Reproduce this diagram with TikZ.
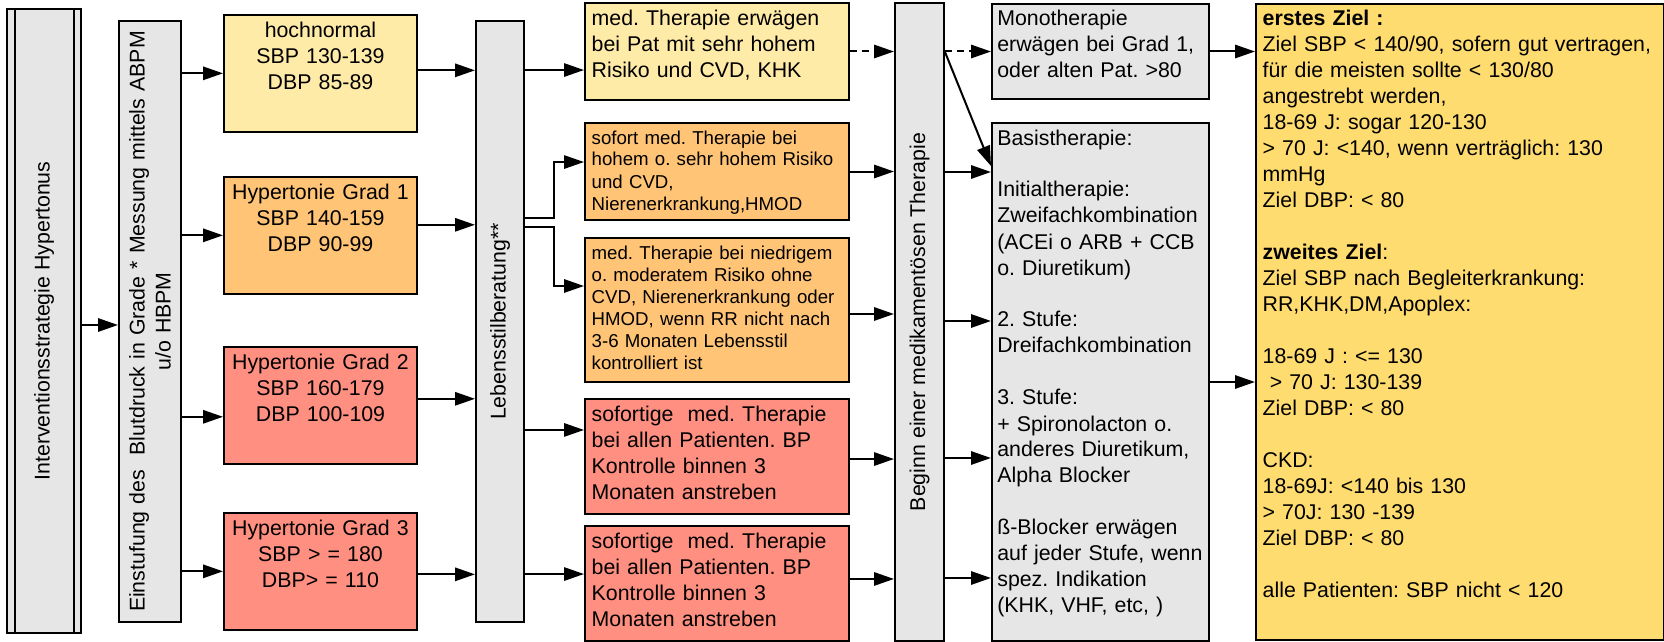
\documentclass[tikz,border=0pt]{standalone}
\usepackage{fontspec}
\setmainfont{Liberation Sans}
\frenchspacing
\usepackage{xcolor}
\definecolor{gray01}{HTML}{E6E6E6}
\definecolor{yellow01}{HTML}{FFEBA8}
\definecolor{orange01}{HTML}{FFC475}
\definecolor{red01}{HTML}{FF8F80}
\definecolor{gold01}{HTML}{FFDC70}
\usepackage{tikz}
\usetikzlibrary{arrows.meta}
\tikzset{
    box/.style={
        rectangle, draw, line width=1.5pt,
        inner xsep=5pt, inner ysep=4pt,
        anchor=north west,
        font=\fontsize{16}{19.5}\selectfont,
        text height=13pt
    },
    stage/.style={
        rectangle, draw, line width=1.5pt, fill=gray01,
        rotate=90, inner sep=2pt,
        font=\fontsize{16}{19.5}\selectfont
    },
    grade/.style={box, inner xsep=4pt, text width=136.75pt, align=center},
    advice/.style={box, text width=188pt, align=left},
    small/.style={font=\fontsize{14}{16.5}\selectfont, text height=11.75pt},
    therapy/.style={box, fill=gray01, inner xsep=4pt, text width=154.75pt, align=left, text height=12.5pt},
    goal/.style={box, fill=gold01, text width=296pt, align=left, text height=12.5pt},
    conn/.style={
        line width=1.5pt,
        -{Triangle[length=15pt, width=10pt]}
    },
}
\begin{document}
\begin{tikzpicture}[x=0.75pt, y=-0.75pt]
    \useasboundingbox (0,0) rectangle (1664,642);

    % stages
    \node[stage, minimum width=468pt, minimum height=55.5pt] (strat) at (44,321) {Interventionsstrategie Hypertonus};
    \draw[line width=1.5pt] ([xshift=6.75pt]strat.north east) -- ([xshift=6.75pt]strat.north west);
    \draw[line width=1.5pt] ([xshift=-6pt]strat.south east) -- ([xshift=-6pt]strat.south west);
    \node[stage, minimum width=450.75pt, minimum height=46.5pt, text width=440pt, align=center] (einst) at (150,321.5)
        {Einstufung des\ \ Blutdruck in Grade * Messung mittels ABPM\\u/o HBPM};
    \node[stage, minimum width=450.75pt, minimum height=36pt] (lebens) at (500,321.5) {Lebensstilberatung**};
    \node[stage, minimum width=478.5pt, minimum height=36.75pt] (beginn) at (919.5,322) {Beginn einer medikamentösen Therapie};

    % grades
    \node[grade, fill=yellow01, text depth=66.5pt] (hochn) at (223,14) {hochnormal\\SBP 130-139\\DBP 85-89};
    \node[grade, fill=orange01, text depth=66.5pt] (grad1) at (223,176) {Hypertonie Grad 1\\SBP 140-159\\DBP 90-99};
    \node[grade, fill=red01, text depth=66.5pt] (grad2) at (223,346) {Hypertonie Grad 2\\SBP 160-179\\DBP 100-109};
    \node[grade, fill=red01, text depth=66.5pt] (grad3) at (223,512) {Hypertonie Grad 3\\SBP > = 180\\DBP> = 110};

    % advice
    \node[advice, fill=yellow01, text depth=51.75pt] (med) at (584,2)
        {med. Therapie erwägen\\bei Pat mit sehr hohem\\Risiko und CVD, KHK};
    \node[advice, small, fill=orange01, text depth=53pt] (or1) at (584,122)
        {sofort med. Therapie bei\\hohem o. sehr hohem Risiko\\und CVD,\\Nierenerkrankung,HMOD};
    \node[advice, small, fill=orange01, text depth=88.25pt] (or2) at (584,237)
        {med. Therapie bei niedrigem\\o. moderatem Risiko ohne\\CVD, Nierenerkrankung oder\\HMOD, wenn RR nicht nach\\3-6 Monaten Lebensstil\\kontrolliert ist};
    \node[advice, fill=red01, text depth=65.25pt] (red1) at (584,398)
        {sofortige\ \ med. Therapie\\bei allen Patienten. BP\\Kontrolle binnen 3\\Monaten anstreben};
    \node[advice, fill=red01, text depth=65.25pt] (red2) at (584,525)
        {sofortige\ \ med. Therapie\\bei allen Patienten. BP\\Kontrolle binnen 3\\Monaten anstreben};

    % therapy
    \node[therapy, text depth=50.75pt] (mono) at (991,3)
        {Monotherapie\\erwägen bei Grad 1,\\oder alten Pat. >80};
    \node[therapy, text depth=368pt] (basis) at (991,122)
        {Basistherapie:\\\mbox{}\\Initialtherapie:\\Zweifachkombination\\(ACEi o ARB + CCB\\o. Diuretikum)\\\mbox{}\\2. Stufe:\\Dreifachkombination\\\mbox{}\\3. Stufe:\\+ Spironolacton o.\\anderes Diuretikum,\\Alpha Blocker\\\mbox{}\\ß-Blocker erwägen\\auf jeder Stufe, wenn\\spez. Indikation\\(KHK, VHF, etc, )};

    % goals
    \node[goal, text depth=456.5pt] (ziel) at (1255,3)
        {\textbf{erstes Ziel :}\\Ziel SBP < 140/90, sofern gut vertragen,\\für die meisten sollte < 130/80\\angestrebt werden,\\18-69 J: sogar 120-130\\> 70 J: <140, wenn verträglich: 130\\mmHg\\Ziel DBP: < 80\\\mbox{}\\\textbf{zweites Ziel}:\\Ziel SBP nach Begleiterkrankung:\\RR,KHK,DM,Apoplex:\\\mbox{}\\18-69 J : <= 130\\\ > 70 J: 130-139\\Ziel DBP: < 80\\\mbox{}\\CKD:\\18-69J: <140 bis 130\\> 70J: 130 -139\\Ziel DBP: < 80\\\mbox{}\\alle Patienten: SBP nicht < 120};

    % connections
    \draw[conn] ([yshift=-3pt]strat.south) -- ([yshift=-3pt]strat.south -| einst.north);
    \foreach \j/\s in {hochn/0, grad1/0, grad2/-8.6, grad3/0}
        \draw[conn] ([yshift=\s pt]\j.west -| einst.south) -- ([yshift=\s pt]\j.west);
    \foreach \i/\s in {hochn/2.25, grad1/7.9, grad2/4.9, grad3/-2.25}
        \draw[conn] ([yshift=\s pt]\i.east) -- ([yshift=\s pt]\i.east -| lebens.north);
    \foreach \j/\s in {med/-13.9, red1/19.9, red2/7.1}
        \draw[conn] ([yshift=\s pt]\j.west -| lebens.south) -- ([yshift=\s pt]\j.west);
    \draw[conn] ([yshift=77.6pt]lebens.south) -- ++(29,0) |- ([yshift=7.1pt]or1.west);
    \draw[conn] ([yshift=70.9pt]lebens.south) -- ++(29,0) |- ([yshift=18pt]or2.west);

    \draw[conn, dash pattern=on 5pt off 4pt] (med.east) -- (med.east -| beginn.north);
    \foreach \i/\s in {or1/0, or2/-3, red1/-1.9, red2/3.4}
        \draw[conn] ([yshift=\s pt]\i.east) -- ([yshift=\s pt]\i.east -| beginn.north);

    \draw[conn, dash pattern=on 5pt off 4pt] (mono.west -| beginn.south) -- (mono.west);
    \draw[conn] ([yshift=-37.5pt]beginn.south east) -- ([yshift=-33pt]basis.north west);
    \foreach \s in {37.5, 149.25, 252, 342}
        \draw[conn] ([yshift=-\s pt]basis.north west -| beginn.south) -- ([yshift=-\s pt]basis.north west);

    \draw[conn] (mono.east) -- (mono.east -| ziel.west);
    \draw[conn] (basis.east) -- (basis.east -| ziel.west);
\end{tikzpicture}
\end{document}
